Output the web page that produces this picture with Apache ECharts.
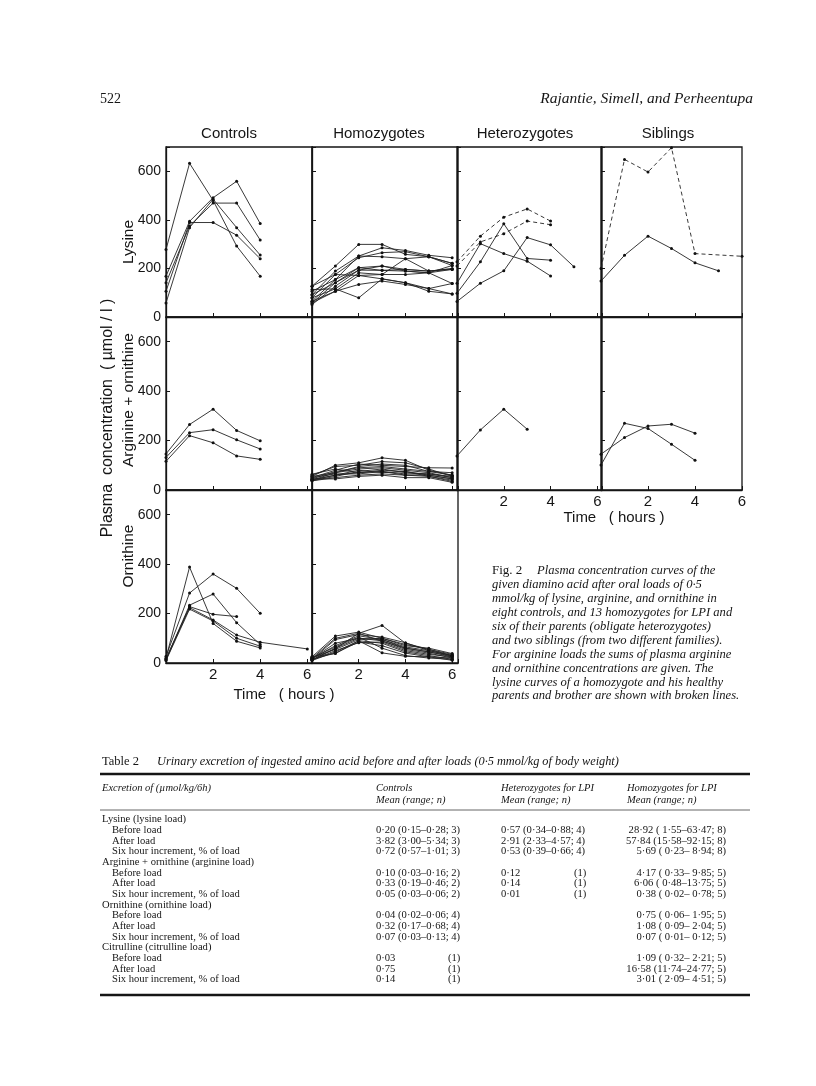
<!DOCTYPE html>
<html><head><meta charset="utf-8">
<script src="https://cdn.jsdelivr.net/npm/echarts@6/dist/echarts.min.js"></script>
<style>html,body{margin:0;padding:0;background:#fff}#c{width:816px;height:1086px}</style>
</head><body><div id="c"></div><script>
// ---------- data ----------
const HOURS = [0, 1, 2, 3, 4, 5, 6];
const GROUPS = ['Controls', 'Homozygotes', 'Heterozygotes', 'Siblings'];
const AMINO = ['Lysine', 'Arginine + ornithine', 'Ornithine'];
const Y_TICKS = [0, 200, 400, 600];
const X_TICKS = [2, 4, 6];

// Lysine (row 1)
const lysControls = [
  [278, 633, 480, 292, 168],
  [168, 394, 491, 559, 385],
  [141, 375, 469, 469, 317],
  [106, 389, 389, 337, 240],
  [58, 368, 485, 368, 255]
];
const lysHomozygotes = [
  [127, 210, 299, 299, 258, 248, 221],
  [92, 189, 251, 285, 274, 254, 244],
  [79, 175, 244, 265, 269, 248, 212],
  [65, 154, 251, 248, 240, 189, 199],
  [113, 116, 79, 157, 141, 117, 95],
  [58, 141, 203, 210, 196, 189, 196],
  [51, 127, 193, 192, 189, 182, 196],
  [79, 116, 182, 175, 175, 182, 138],
  [65, 106, 171, 157, 141, 106, 95],
  [92, 141, 193, 210, 189, 182, 212],
  [58, 106, 134, 148, 134, 117, 138],
  [106, 154, 203, 192, 196, 189, 199],
  [127, 175, 171, 175, 240, 248, 221]
];
const lysHeteroSolid = [
  [139, 302, 261, 230, 169],
  [98, 227, 384, 241, 234],
  [64, 139, 190, 327, 297, 207]
];
const lysHeteroDashed = [
  [227, 333, 411, 445, 395],
  [210, 309, 343, 395, 380]
];
const lysSiblingsSolid = [
  [148, 254, 333, 282, 223, 190]
];
const lysSiblingsDashed = [
  [200, 649, 597, 697, 261, null, 250]
];

// Arginine + ornithine (row 2)
const argControls = [
  [146, 265, 327, 241, 199],
  [132, 232, 244, 203, 166],
  [116, 220, 191, 138, 124]
];
const argHomozygotes = [
  [55, 100, 110, 130, 120, 80, 60],
  [60, 95, 100, 115, 110, 85, 55],
  [50, 80, 105, 100, 95, 90, 89],
  [45, 75, 90, 95, 85, 75, 70],
  [40, 70, 85, 90, 80, 70, 50],
  [64, 85, 70, 80, 75, 60, 45],
  [38, 55, 75, 85, 70, 65, 55],
  [42, 60, 80, 70, 75, 55, 40],
  [50, 65, 65, 75, 60, 60, 45],
  [37, 50, 60, 65, 60, 55, 35],
  [45, 45, 55, 60, 50, 50, 31],
  [55, 70, 95, 105, 100, 75, 60],
  [40, 60, 70, 75, 65, 65, 50]
];
const argHetero = [
  [138, 243, 327, 246]
];
const argSiblings = [
  [101, 270, 249, 185, 120],
  [145, 212, 259, 266, 230]
];

// Ornithine (row 3)
const ornControls = [
  [20, 388, 160, 88, 61],
  [27, 283, 360, 302, 201],
  [15, 234, 279, 163, 75],
  [12, 228, 197, 188],
  [18, 224, 174, 113, 84, null, 57],
  [10, 218, 170, 100, 68]
];
const ornHomozygotes = [
  [20, 100, 120, 152, 80, 55, 35],
  [25, 109, 125, 100, 70, 60, 38],
  [15, 95, 115, 105, 82, 50, 30],
  [18, 70, 110, 95, 60, 45, 25],
  [12, 60, 100, 90, 55, 40, 20],
  [22, 55, 95, 100, 75, 55, 30],
  [10, 45, 90, 80, 45, 30, 15],
  [15, 40, 85, 70, 40, 25, 11],
  [20, 65, 105, 60, 30, 20, 15],
  [12, 50, 82, 85, 50, 35, 25],
  [18, 80, 100, 95, 65, 50, 30],
  [25, 38, 90, 41, 27, 25, 20],
  [14, 58, 120, 88, 60, 45, 28]
];

// Caption
const captionFig = 'Fig. 2';
const captionLines = [
  'Plasma concentration curves of the',
  'given diamino acid after oral loads of 0·5',
  'mmol/kg of lysine, arginine, and ornithine in',
  'eight controls, and 13 homozygotes for LPI and',
  'six of their parents (obligate heterozygotes)',
  'and two siblings (from two different families).',
  'For arginine loads the sums of plasma arginine',
  'and ornithine concentrations are given. The',
  'lysine curves of a homozygote and his healthy',
  'parents and brother are shown with broken lines.'
];

// Table 2
const tableTitleNo = 'Table 2';
const tableTitle = 'Urinary excretion of ingested amino acid before and after loads (0·5 mmol/kg of body weight)';
const tableHead1 = ['Excretion of (µmol/kg/6h)', 'Controls', 'Heterozygotes for LPI', 'Homozygotes for LPI'];
const tableHead2 = ['', 'Mean (range; n)', 'Mean (range; n)', 'Mean (range; n)'];
const rowLabels = [
  'Lysine (lysine load)', 'Before load', 'After load', 'Six hour increment, % of load',
  'Arginine + ornithine (arginine load)', 'Before load', 'After load', 'Six hour increment, % of load',
  'Ornithine (ornithine load)', 'Before load', 'After load', 'Six hour increment, % of load',
  'Citrulline (citrulline load)', 'Before load', 'After load', 'Six hour increment, % of load'
];
const rowIndent = [0,1,1,1, 0,1,1,1, 0,1,1,1, 0,1,1,1];
const colControls = [
  '', '0·20 (0·15–0·28; 3)', '3·82 (3·00–5·34; 3)', '0·72 (0·57–1·01; 3)',
  '', '0·10 (0·03–0·16; 2)', '0·33 (0·19–0·46; 2)', '0·05 (0·03–0·06; 2)',
  '', '0·04 (0·02–0·06; 4)', '0·32 (0·17–0·68; 4)', '0·07 (0·03–0·13; 4)',
  '', '0·03', '0·75', '0·14'
];
const colControlsN = ['', '', '', '', '', '', '', '', '', '', '', '', '', '(1)', '(1)', '(1)'];
const colHetero = [
  '', '0·57 (0·34–0·88; 4)', '2·91 (2·33–4·57; 4)', '0·53 (0·39–0·66; 4)',
  '', '0·12', '0·14', '0·01',
  '', '', '', '',
  '', '', '', ''
];
const colHeteroN = ['', '', '', '', '', '(1)', '(1)', '(1)', '', '', '', '', '', '', '', ''];
const colHomo = [
  '', '28·92 ( 1·55–63·47; 8)', '57·84 (15·58–92·15; 8)', '5·69 ( 0·23– 8·94; 8)',
  '', '4·17 ( 0·33– 9·85; 5)', '6·06 ( 0·48–13·75; 5)', '0·38 ( 0·02– 0·78; 5)',
  '', '0·75 ( 0·06– 1·95; 5)', '1·08 ( 0·09– 2·04; 5)', '0·07 ( 0·01– 0·12; 5)',
  '', '1·09 ( 0·32– 2·21; 5)', '16·58 (11·74–24·77; 5)', '3·01 ( 2·09– 4·51; 5)'
];

// ---------- layout ----------
const SANS = '"Liberation Sans", Arial, sans-serif';
const SERIF = '"Liberation Serif", "Times New Roman", serif';
const INK = '#151515';
const colLeft = [166, 312, 457, 601];
const colW = [146, 146, 145, 141];
const colXMax = [6.2, 6.25, 6.2, 6.0];
const rowTop = [147, 317, 490];
const rowH = [170, 173, 173];
const panels = [[0,0],[0,1],[0,2],[0,3],[1,0],[1,1],[1,2],[1,3],[2,0],[2,1]];
const xLabelPanels = ['1-2', '1-3', '2-0', '2-1'];

const grids = [], xAxes = [], yAxes = [];
panels.forEach(([r, c], i) => {
  grids.push({left: colLeft[c], top: rowTop[r], width: colW[c], height: rowH[r],
    show: true, borderColor: INK, borderWidth: 1.3, backgroundColor: 'transparent',
    containLabel: false, outerBoundsMode: 'none'});
  const showX = xLabelPanels.includes(r + '-' + c);
  xAxes.push({type: 'value', gridIndex: i, min: 0, max: colXMax[c], interval: 2,
    axisLine: {show: true, lineStyle: {color: INK, width: 1.3}},
    axisTick: {show: true, inside: true, length: 4, lineStyle: {color: INK, width: 1}},
    axisLabel: {show: showX, margin: 4, fontSize: 15, fontFamily: SANS, color: INK,
      showMinLabel: true, showMaxLabel: true,
      formatter: v => X_TICKS.includes(v) ? String(v) : ''},
    splitLine: {show: false}});
  yAxes.push({type: 'value', gridIndex: i, min: 0, max: 700, interval: 200,
    axisLine: {show: true, lineStyle: {color: INK, width: 1.3}},
    axisTick: {show: true, inside: true, length: 4, lineStyle: {color: INK, width: 1}},
    axisLabel: {show: c === 0, margin: 5, fontSize: 14, fontFamily: SANS, color: INK,
      showMinLabel: true, showMaxLabel: true,
      formatter: v => Y_TICKS.includes(v) ? String(v) : ''},
    splitLine: {show: false}});
});

const series = [];
function addLines(panel, list, dashed) {
  list.forEach(vals => {
    series.push({type: 'line', xAxisIndex: panel, yAxisIndex: panel,
      data: vals.map((v, i) => v == null ? null : [HOURS[i], v]).filter(d => d),
      symbol: 'circle', symbolSize: 3, silent: true, animation: false,
      lineStyle: {color: '#222', width: 0.9, type: dashed ? [4, 3] : 'solid'},
      itemStyle: {color: '#111'}});
  });
}
addLines(0, lysControls, false);
addLines(1, lysHomozygotes, false);
addLines(2, lysHeteroSolid, false);
addLines(2, lysHeteroDashed, true);
addLines(3, lysSiblingsSolid, false);
addLines(3, lysSiblingsDashed, true);
addLines(4, argControls, false);
addLines(5, argHomozygotes, false);
addLines(6, argHetero, false);
addLines(7, argSiblings, false);
addLines(8, ornControls, false);
addLines(9, ornHomozygotes, false);

// ---------- text graphics ----------
const g = [];
function txt(text, x, y, font, align, vAlign, rot) {
  g.push({type: 'text', x: x, y: y, rotation: rot || 0, silent: true,
    style: {text: text, x: 0, y: 0, font: font, fill: INK,
      textAlign: align || 'left', textVerticalAlign: vAlign || 'middle'}});
}
function hline(x1, x2, y, w, color) {
  g.push({type: 'line', silent: true, shape: {x1: x1, y1: y, x2: x2, y2: y},
    style: {stroke: color || INK, lineWidth: w}});
}
// page header
txt('522', 100, 99, '14px ' + SERIF, 'left');
txt('Rajantie, Simell, and Perheentupa', 753, 99, 'italic 15.5px ' + SERIF, 'right');
// group titles
const titleX = [229, 379, 525, 668];
GROUPS.forEach((t, i) => txt(t, titleX[i], 134, '15px ' + SANS, 'center'));
// y titles
txt('Plasma  concentration  ( µmol / l )', 108, 418, '16px ' + SANS, 'center', 'middle', Math.PI / 2);
const aminoY = [242, 400, 556];
AMINO.forEach((t, i) => txt(t, 129, aminoY[i], '15.5px ' + SANS, 'center', 'middle', Math.PI / 2));
// time titles
txt('Time   ( hours )', 614, 518, '15px ' + SANS, 'center');
txt('Time   ( hours )', 284, 695, '15px ' + SANS, 'center');
// caption
txt(captionFig, 492, 571, '13px ' + SERIF, 'left');
captionLines.forEach((t, i) => txt(t, i === 0 ? 537 : 492, 571 + i * 13.9, 'italic 12.6px ' + SERIF, 'left'));
// table
txt(tableTitleNo, 102, 762, '12.5px ' + SERIF, 'left');
txt(tableTitle, 157, 762, 'italic 12.3px ' + SERIF, 'left');
hline(100, 750, 774, 2.4);
const tcolX = [102, 376, 501, 627];
tableHead1.forEach((t, i) => txt(t, tcolX[i], 788, 'italic 10.5px ' + SERIF, 'left'));
tableHead2.forEach((t, i) => t && txt(t, tcolX[i], 800, 'italic 10.5px ' + SERIF, 'left'));
hline(100, 750, 810, 0.9, '#555');
const TF = '10.6px ' + SERIF;
rowLabels.forEach((t, i) => {
  const y = 819.5 + i * 10.67;
  txt(t, rowIndent[i] ? 112 : 102, y, TF, 'left');
  if (colControls[i]) txt(colControls[i], 376, y, TF, 'left');
  if (colControlsN[i]) txt(colControlsN[i], 448, y, TF, 'left');
  if (colHetero[i]) txt(colHetero[i], 501, y, TF, 'left');
  if (colHeteroN[i]) txt(colHeteroN[i], 574, y, TF, 'left');
  if (colHomo[i]) txt(colHomo[i], 726, y, TF, 'right');
});
hline(100, 750, 995, 2.4);

const chart = echarts.init(document.getElementById('c'), null, {renderer: 'canvas'});
chart.setOption({
  backgroundColor: '#fff',
  animation: false,
  grid: grids, xAxis: xAxes, yAxis: yAxes, series: series,
  graphic: g
});
</script></body></html>
